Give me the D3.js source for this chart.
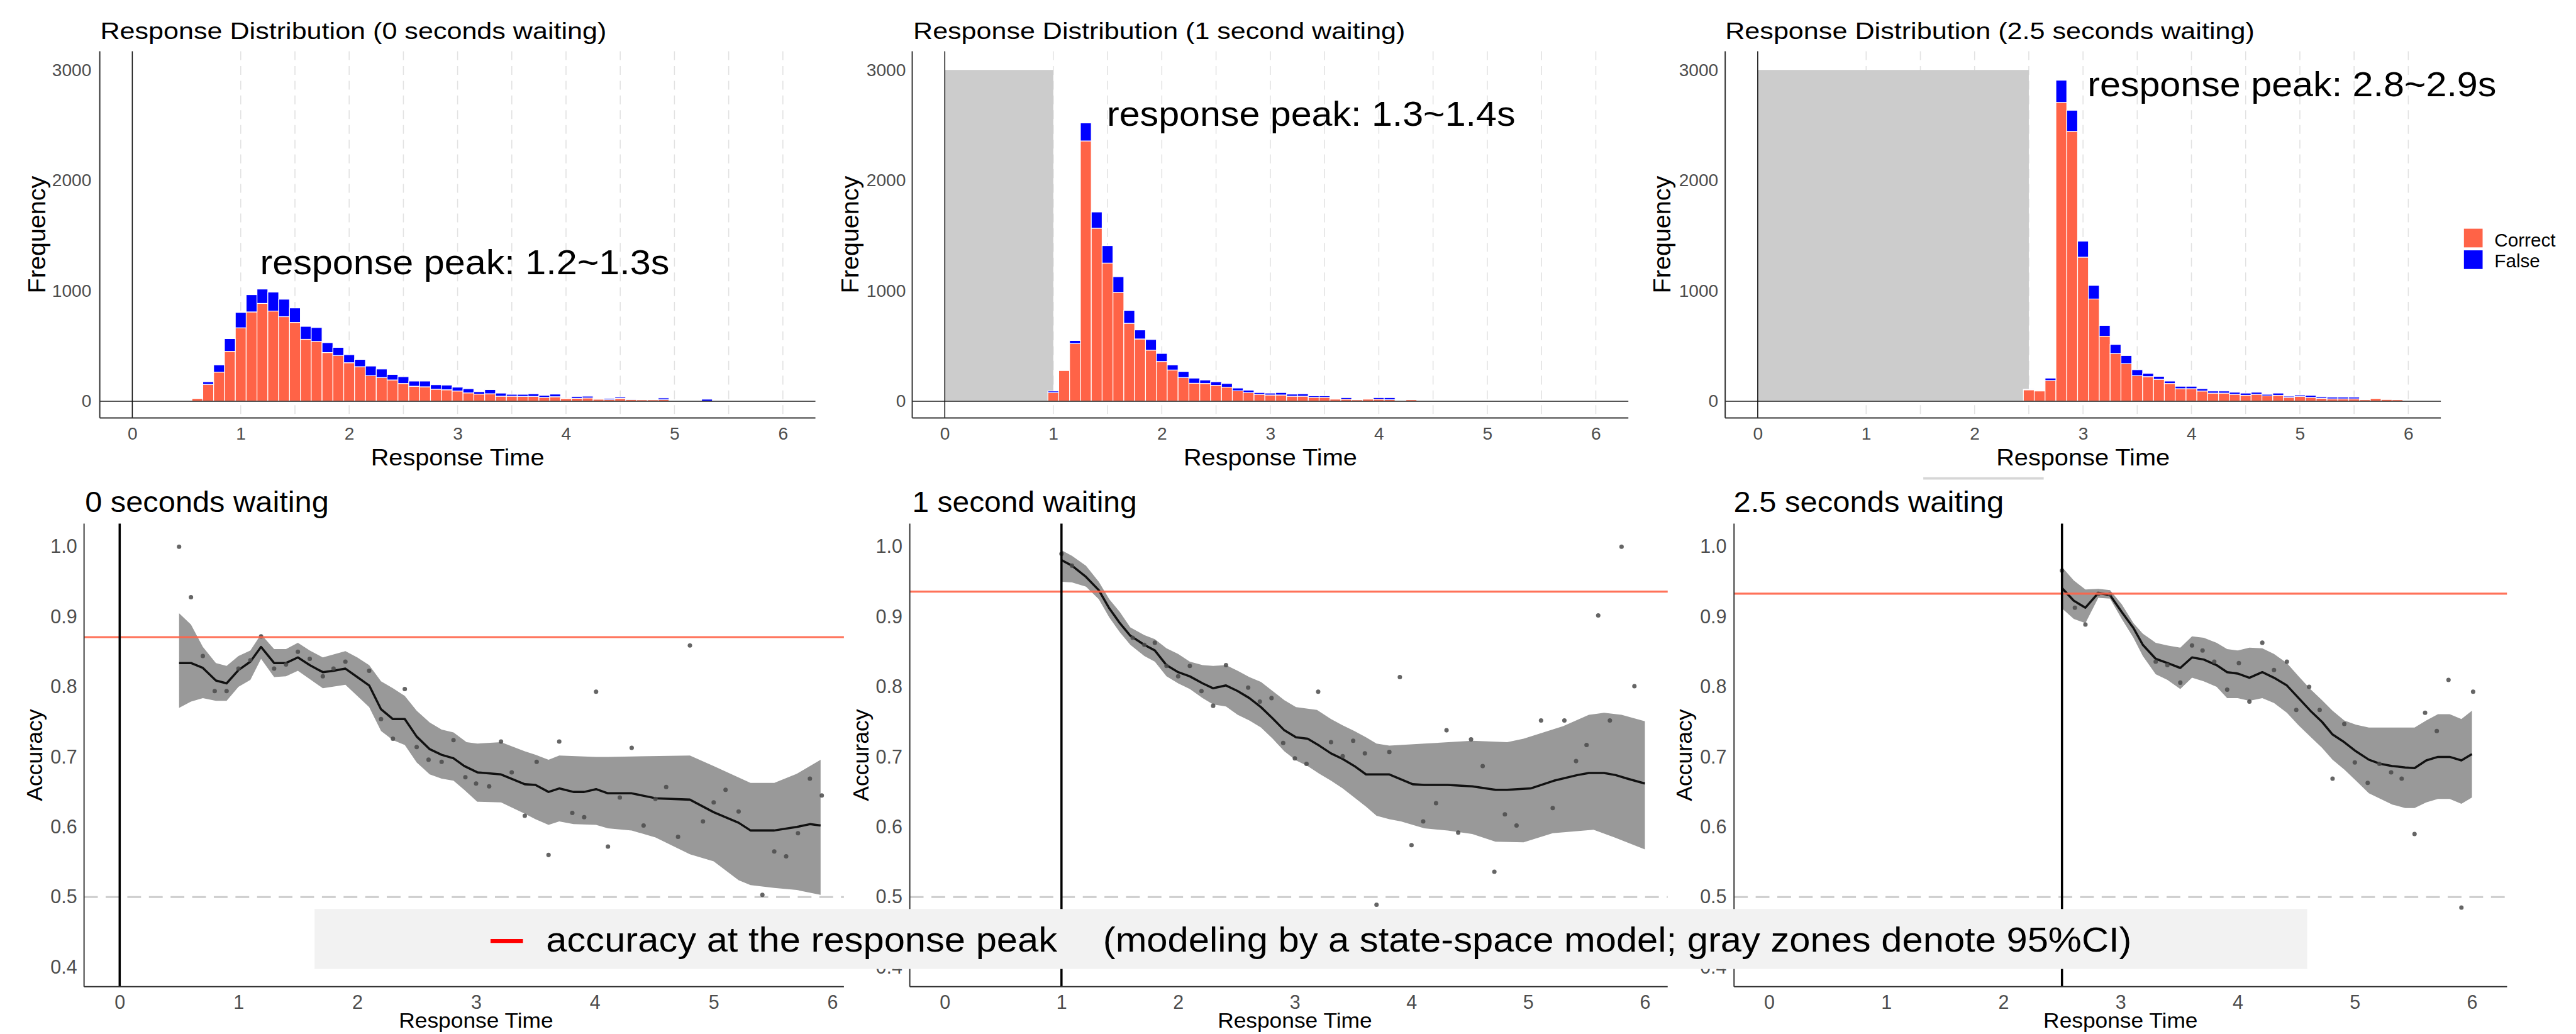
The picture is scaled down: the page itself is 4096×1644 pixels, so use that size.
<!DOCTYPE html>
<html>
<head>
<meta charset="utf-8">
<script src="https://cdn.jsdelivr.net/npm/d3@7"></script>
<style>
  html, body { margin: 0; padding: 0; background: #fff; }
  svg { display: block; }
</style>
</head>
<body>
<div id="chart"></div>
<script>
// ======================================================
// DATA
// ======================================================
const waitTimes = [0, 1, 2.5];
const binWidth = 0.1;

// histogram counts, one bin per 0.1 s starting at binStart
const binStart0 = 0.6;
const correct0 = [25,153,264,452,665,809,886,817,766,714,561,542,441,414,349,313,232,215,193,161,136,131,109,104,93,76,65,68,46,46,44,44,35,41,25,27,30,19,16,25,16,14,14,16,3,2,2,2,2,1,1,1,1,1,1];
const false0   = [0,24,66,115,139,156,130,172,158,131,117,126,90,74,73,66,87,77,50,62,47,52,41,43,35,38,22,38,28,17,19,24,19,24,5,17,16,6,11,13,3,2,2,14,2,2,2,17,2,2,2,1,1,1,1];

const binStart1 = 1.0;
const correct1 = [79,278,523,2357,1567,1251,986,706,564,463,360,283,215,163,161,144,128,95,79,63,57,57,46,46,35,35,19,19,14,19,19,16,3,14,1,1,1,1,1,1,1,1,1,1,1,1,1];
const false1   = [14,0,27,163,147,158,142,117,82,96,73,47,55,47,32,33,33,25,22,16,17,22,19,22,14,14,0,14,2,0,14,17,1,0,1,1,1,1,1,1,1,1,1,1,1,1,1];

const binStart2 = 2.5;
const correct2 = [104,93,188,2706,2444,1305,926,589,433,341,232,223,199,161,114,114,93,74,74,63,54,63,49,54,35,44,35,27,22,22,22,14,25,16,14,2];
const false2   = [5,0,22,201,191,145,123,98,82,73,54,30,27,22,22,22,21,19,19,19,20,19,14,20,11,13,19,14,16,16,16,0,0,0,0,1];

// accuracy curves: [time, value]
const mean0 = [[0.5,0.834],[0.6,0.834],[0.7,0.827],[0.81,0.809],[0.9,0.805],[1.0,0.824],[1.1,0.836],[1.19,0.857],[1.3,0.834],[1.4,0.834],[1.5,0.842],[1.6,0.831],[1.71,0.821],[1.8,0.823],[1.9,0.826],[2.0,0.814],[2.1,0.802],[2.2,0.768],[2.3,0.754],[2.4,0.754],[2.5,0.729],[2.61,0.711],[2.71,0.703],[2.81,0.698],[2.9,0.687],[3.01,0.678],[3.21,0.675],[3.41,0.661],[3.5,0.66],[3.61,0.65],[3.7,0.655],[3.82,0.65],[3.91,0.65],[4.01,0.654],[4.11,0.648],[4.31,0.648],[4.51,0.641],[4.8,0.639],[5.0,0.621],[5.21,0.606],[5.31,0.595],[5.51,0.595],[5.7,0.6],[5.81,0.604],[5.9,0.602]];
const upper0 = [[0.5,0.905],[0.6,0.889],[0.7,0.857],[0.81,0.834],[0.9,0.83],[1.0,0.844],[1.1,0.852],[1.19,0.875],[1.3,0.854],[1.4,0.854],[1.5,0.863],[1.6,0.852],[1.71,0.842],[1.9,0.851],[2.0,0.842],[2.1,0.831],[2.2,0.808],[2.3,0.798],[2.4,0.787],[2.5,0.766],[2.61,0.749],[2.71,0.739],[2.81,0.735],[2.92,0.721],[3.01,0.719],[3.21,0.721],[3.41,0.708],[3.5,0.703],[3.61,0.696],[3.7,0.702],[4.01,0.7],[4.11,0.7],[4.8,0.702],[5.0,0.687],[5.31,0.663],[5.51,0.663],[5.7,0.676],[5.9,0.696]];
const lower0 = [[0.5,0.77],[0.6,0.779],[0.7,0.784],[0.81,0.78],[0.9,0.78],[1.0,0.8],[1.1,0.81],[1.19,0.84],[1.3,0.814],[1.4,0.815],[1.5,0.823],[1.6,0.811],[1.71,0.798],[1.9,0.803],[2.0,0.787],[2.1,0.771],[2.2,0.737],[2.3,0.724],[2.4,0.717],[2.5,0.692],[2.61,0.675],[2.71,0.669],[2.81,0.666],[2.9,0.653],[3.01,0.636],[3.21,0.635],[3.41,0.619],[3.5,0.611],[3.61,0.603],[3.7,0.608],[3.82,0.604],[4.01,0.603],[4.11,0.598],[4.31,0.595],[4.51,0.585],[4.8,0.561],[5.0,0.551],[5.21,0.524],[5.31,0.517],[5.51,0.513],[5.7,0.51],[5.9,0.503]];
const points0 = [[0.5,1.0],[0.6,0.928],[0.7,0.844],[0.8,0.794],[0.9,0.794],[1.0,0.826],[1.1,0.838],[1.19,0.872],[1.3,0.826],[1.4,0.832],[1.5,0.85],[1.6,0.84],[1.71,0.815],[1.8,0.826],[1.9,0.836],[2.1,0.823],[2.2,0.754],[2.3,0.726],[2.4,0.797],[2.5,0.714],[2.6,0.696],[2.71,0.693],[2.81,0.724],[2.91,0.671],[3.0,0.662],[3.11,0.658],[3.21,0.722],[3.3,0.678],[3.41,0.616],[3.51,0.693],[3.61,0.56],[3.7,0.722],[3.81,0.62],[3.91,0.614],[4.01,0.793],[4.11,0.572],[4.21,0.642],[4.31,0.713],[4.41,0.602],[4.51,0.64],[4.6,0.657],[4.7,0.586],[4.8,0.859],[4.91,0.608],[5.0,0.635],[5.1,0.653],[5.21,0.622],[5.41,0.503],[5.51,0.565],[5.61,0.558],[5.71,0.591],[5.81,0.669],[5.91,0.645]];

const mean1 = [[1.0,0.981],[1.09,0.973],[1.21,0.957],[1.32,0.938],[1.41,0.912],[1.5,0.891],[1.59,0.873],[1.71,0.86],[1.8,0.852],[1.9,0.831],[2.0,0.821],[2.1,0.815],[2.21,0.805],[2.3,0.798],[2.41,0.802],[2.51,0.794],[2.61,0.784],[2.71,0.771],[2.81,0.755],[2.91,0.738],[3.01,0.728],[3.11,0.726],[3.21,0.716],[3.31,0.705],[3.41,0.697],[3.51,0.687],[3.61,0.675],[3.7,0.675],[3.81,0.675],[3.91,0.668],[4.01,0.661],[4.11,0.66],[4.31,0.66],[4.52,0.658],[4.72,0.653],[4.82,0.653],[5.02,0.655],[5.22,0.666],[5.42,0.674],[5.52,0.677],[5.65,0.677],[5.75,0.674],[5.85,0.669],[6.0,0.662]];
const upper1 = [[1.0,0.995],[1.09,0.987],[1.21,0.973],[1.32,0.95],[1.41,0.925],[1.5,0.907],[1.59,0.885],[1.71,0.874],[1.8,0.868],[1.9,0.855],[2.0,0.847],[2.1,0.836],[2.21,0.831],[2.3,0.83],[2.41,0.831],[2.51,0.823],[2.61,0.814],[2.71,0.807],[2.81,0.794],[2.91,0.781],[3.01,0.771],[3.19,0.767],[3.31,0.754],[3.41,0.745],[3.51,0.737],[3.61,0.728],[3.7,0.719],[3.81,0.716],[4.11,0.719],[4.52,0.723],[4.82,0.721],[4.96,0.726],[5.3,0.744],[5.52,0.76],[5.65,0.763],[5.8,0.76],[6.0,0.751]];
const lower1 = [[1.0,0.95],[1.09,0.949],[1.21,0.943],[1.32,0.925],[1.41,0.899],[1.5,0.878],[1.59,0.86],[1.71,0.844],[1.8,0.836],[1.9,0.815],[2.0,0.805],[2.1,0.797],[2.21,0.784],[2.3,0.775],[2.41,0.772],[2.51,0.76],[2.61,0.752],[2.71,0.742],[2.81,0.726],[2.91,0.708],[3.01,0.695],[3.11,0.687],[3.21,0.676],[3.31,0.666],[3.41,0.655],[3.51,0.642],[3.61,0.629],[3.7,0.616],[3.81,0.611],[3.91,0.608],[4.01,0.603],[4.11,0.598],[4.31,0.595],[4.52,0.59],[4.72,0.579],[4.96,0.578],[5.21,0.591],[5.56,0.596],[5.74,0.585],[6.0,0.568]];
const points1 = [[1.0,0.99],[1.09,0.973],[1.61,0.87],[1.71,0.86],[1.8,0.863],[1.9,0.83],[2.0,0.815],[2.1,0.83],[2.2,0.794],[2.3,0.773],[2.41,0.831],[2.6,0.799],[2.7,0.779],[2.8,0.784],[2.9,0.72],[3.0,0.698],[3.1,0.69],[3.2,0.793],[3.31,0.721],[3.41,0.701],[3.5,0.723],[3.6,0.705],[3.7,0.489],[3.81,0.707],[3.9,0.814],[4.0,0.574],[4.1,0.608],[4.21,0.634],[4.3,0.738],[4.4,0.592],[4.51,0.725],[4.61,0.687],[4.71,0.536],[4.8,0.618],[4.9,0.602],[5.11,0.752],[5.21,0.627],[5.31,0.752],[5.41,0.694],[5.5,0.717],[5.6,0.902],[5.7,0.752],[5.8,1.0],[5.91,0.801]];

const mean2 = [[2.5,0.941],[2.6,0.923],[2.7,0.913],[2.81,0.934],[2.91,0.931],[3.01,0.907],[3.11,0.884],[3.19,0.86],[3.3,0.84],[3.4,0.834],[3.51,0.827],[3.61,0.842],[3.71,0.839],[3.82,0.831],[3.91,0.821],[4.0,0.819],[4.1,0.813],[4.21,0.821],[4.31,0.813],[4.42,0.802],[4.52,0.784],[4.62,0.766],[4.72,0.75],[4.81,0.732],[4.91,0.721],[5.01,0.708],[5.12,0.696],[5.22,0.69],[5.32,0.687],[5.43,0.685],[5.51,0.684],[5.61,0.695],[5.71,0.7],[5.81,0.7],[5.91,0.695],[6.0,0.704]];
const upper2 = [[2.5,0.971],[2.6,0.952],[2.7,0.939],[2.81,0.94],[2.91,0.938],[3.01,0.918],[3.11,0.891],[3.19,0.876],[3.3,0.863],[3.4,0.859],[3.51,0.856],[3.61,0.872],[3.71,0.87],[3.82,0.863],[3.91,0.854],[4.0,0.852],[4.1,0.856],[4.21,0.855],[4.31,0.847],[4.42,0.834],[4.52,0.815],[4.62,0.797],[4.72,0.781],[4.81,0.766],[4.91,0.752],[5.01,0.746],[5.12,0.742],[5.32,0.742],[5.51,0.742],[5.61,0.752],[5.71,0.761],[5.81,0.761],[5.91,0.754],[6.0,0.766]];
const lower2 = [[2.5,0.912],[2.6,0.897],[2.7,0.891],[2.81,0.927],[2.91,0.926],[3.01,0.897],[3.11,0.87],[3.19,0.844],[3.3,0.818],[3.4,0.81],[3.51,0.797],[3.61,0.813],[3.71,0.808],[3.82,0.8],[3.91,0.784],[4.0,0.784],[4.1,0.78],[4.21,0.784],[4.31,0.777],[4.42,0.763],[4.52,0.745],[4.62,0.729],[4.72,0.713],[4.81,0.696],[4.91,0.682],[5.01,0.666],[5.12,0.648],[5.22,0.64],[5.32,0.632],[5.43,0.627],[5.51,0.627],[5.61,0.635],[5.71,0.64],[5.81,0.64],[5.91,0.633],[6.0,0.642]];
const points2 = [[2.5,0.966],[2.61,0.913],[2.7,0.889],[2.81,0.933],[2.91,0.932],[3.3,0.836],[3.4,0.831],[3.51,0.806],[3.61,0.859],[3.7,0.852],[3.8,0.836],[3.91,0.796],[4.01,0.834],[4.1,0.779],[4.21,0.863],[4.31,0.824],[4.42,0.836],[4.5,0.767],[4.61,0.8],[4.7,0.767],[4.81,0.669],[4.91,0.747],[5.0,0.692],[5.11,0.663],[5.21,0.69],[5.31,0.678],[5.4,0.669],[5.51,0.59],[5.6,0.763],[5.7,0.737],[5.8,0.81],[5.91,0.485],[6.01,0.793]];

const peakAccuracy = [0.871, 0.936, 0.933];
const chanceLevel = 0.5;

const freqTicks = [0, 1000, 2000, 3000];
const timeTicks = [0, 1, 2, 3, 4, 5, 6];
const accTicks = [0.4, 0.5, 0.6, 0.7, 0.8, 0.9, 1.0];
const gridTimes = [1, 1.5, 2, 2.5, 3, 3.5, 4, 4.5, 5, 5.5, 6];

const histTitles = ["Response Distribution (0 seconds waiting)", "Response Distribution (1 second waiting)", "Response Distribution (2.5 seconds waiting)"];
const accTitles = ["0 seconds waiting", "1 second waiting", "2.5 seconds waiting"];
const peakLabels = ["response peak: 1.2~1.3s", "response peak: 1.3~1.4s", "response peak: 2.8~2.9s"];
const legendKeys = ["Correct", "False"];
const footnoteMain = "accuracy at the response peak";
const footnoteNote = "(modeling by a state-space model; gray zones denote 95%CI)";

const histData = [
  { start: binStart0, correct: correct0, wrong: false0 },
  { start: binStart1, correct: correct1, wrong: false1 },
  { start: binStart2, correct: correct2, wrong: false2 }
];
const accData = [
  { mean: mean0, upper: upper0, lower: lower0, points: points0 },
  { mean: mean1, upper: upper1, lower: lower1, points: points1 },
  { mean: mean2, upper: upper2, lower: lower2, points: points2 }
];

// ======================================================
// CANVAS (drawn in reference pixels, scaled by viewBox)
// ======================================================
const W = 5241, H = 2103;
const FONT = "'Liberation Sans', Arial, Helvetica, sans-serif";
const NOTE_FONT = "'Liberation Sans Narrow', 'Liberation Sans', Arial, sans-serif";
const COL_CORRECT = "#FF6347", COL_FALSE = "#0000FF";

const svg = d3.select("#chart").append("svg")
  .attr("width", 4096).attr("height", 1644)
  .attr("viewBox", `0 0 ${W} ${H}`)
  .style("font-family", FONT);

svg.append("rect").attr("width", W).attr("height", H).attr("fill", "#fff");
const defs = svg.append("defs");

// -----------------------------
// TOP ROW: histograms
// -----------------------------
const histLayout = [
  { left: 203,  right: 1659, pad: 17, ylab: 92,   titleX: 204,  titleLen: 1030, ann: { x: 529,  y: 557, len: 833 } },
  { left: 1856, right: 3313, pad: 13, ylab: 1746, titleX: 1858, titleLen: 1001, ann: { x: 2252, y: 256, len: 831 } },
  { left: 3510, right: 4966, pad: 14, ylab: 3398, titleX: 3510, titleLen: 1077, ann: { x: 4247, y: 195, len: 832 } }
];
const hTop = 104, hBottom = 850;

function drawHist(i) {
  const L = histLayout[i];
  const d = histData[i];
  const wait = waitTimes[i];
  const g = svg.append("g").attr("class", "hist-" + i);

  const x = d3.scaleLinear().domain([-0.3, 6.3]).range([L.left, L.right]);
  const y = d3.scaleLinear().domain([-151, 3169]).range([hBottom, hTop]);

  // dashed vertical guides
  g.selectAll(".guide").data(gridTimes).join("line")
    .attr("x1", t => x(t)).attr("x2", t => x(t))
    .attr("y1", hTop).attr("y2", hBottom)
    .attr("stroke", "#e2e2e2").attr("stroke-width", 2)
    .attr("stroke-dasharray", "18,12");

  // waiting window
  if (wait > 0) {
    g.append("rect")
      .attr("x", x(0)).attr("width", x(wait) - x(0))
      .attr("y", y(3000)).attr("height", y(0) - y(3000))
      .attr("fill", "#cccccc");
  }

  // stacked bars
  const bins = d.correct.map((c, j) => ({ x0: d.start + j * binWidth - binWidth / 2, c: c, f: d.wrong[j] }));
  g.selectAll(".bar-c").data(bins).join("rect")
    .attr("x", b => x(b.x0)).attr("width", b => x(b.x0 + binWidth) - x(b.x0))
    .attr("y", b => y(b.c)).attr("height", b => y(0) - y(b.c))
    .attr("fill", COL_CORRECT).attr("stroke", "#fff").attr("stroke-width", 1.5);
  g.selectAll(".bar-f").data(bins).join("rect")
    .attr("x", b => x(b.x0)).attr("width", b => x(b.x0 + binWidth) - x(b.x0))
    .attr("y", b => y(b.c + b.f)).attr("height", b => y(b.c) - y(b.c + b.f))
    .attr("fill", COL_FALSE).attr("stroke", "#fff").attr("stroke-width", 1.5);

  // zero line + x=0 line
  g.append("line").attr("x1", L.left).attr("x2", L.right).attr("y1", y(0)).attr("y2", y(0))
    .attr("stroke", "#555").attr("stroke-width", 2.5);
  g.append("line").attr("x1", x(0)).attr("x2", x(0)).attr("y1", hTop).attr("y2", hBottom)
    .attr("stroke", "#111").attr("stroke-width", 2);

  // axis lines
  g.append("line").attr("x1", L.left).attr("x2", L.left).attr("y1", hTop).attr("y2", hBottom)
    .attr("stroke", "#333").attr("stroke-width", 2.5);
  g.append("line").attr("x1", L.left).attr("x2", L.right).attr("y1", hBottom).attr("y2", hBottom)
    .attr("stroke", "#333").attr("stroke-width", 2.5);

  // tick labels
  const ya = g.append("g").attr("transform", `translate(${L.left},0)`)
    .call(d3.axisLeft(y).tickValues(freqTicks).tickFormat(d3.format("d")).tickSize(0).tickPadding(L.pad));
  const xa = g.append("g").attr("transform", `translate(0,${hBottom})`)
    .call(d3.axisBottom(x).tickValues(timeTicks).tickFormat(d3.format("d")).tickSize(0).tickPadding(18));
  [ya, xa].forEach(a => {
    a.select(".domain").remove();
    a.selectAll("text").attr("font-family", FONT).attr("font-size", 36).attr("fill", "#4d4d4d");
  });

  // titles
  g.append("text").attr("x", L.titleX).attr("y", 79)
    .attr("font-size", 48).attr("textLength", L.titleLen).attr("lengthAdjust", "spacingAndGlyphs")
    .text(histTitles[i]);
  g.append("text").attr("x", (L.left + L.right) / 2).attr("y", 946)
    .attr("text-anchor", "middle").attr("font-size", 48)
    .attr("textLength", 353).attr("lengthAdjust", "spacingAndGlyphs")
    .text("Response Time");
  g.append("text").attr("transform", `translate(${L.ylab},${(hTop + hBottom) / 2}) rotate(-90)`)
    .attr("text-anchor", "middle").attr("font-size", 50)
    .attr("textLength", 239).attr("lengthAdjust", "spacingAndGlyphs")
    .text("Frequency");

  // peak annotation
  g.append("text").attr("x", L.ann.x).attr("y", L.ann.y)
    .attr("font-family", NOTE_FONT).attr("font-size", 70)
    .attr("textLength", L.ann.len).attr("lengthAdjust", "spacingAndGlyphs")
    .text(peakLabels[i]);
}

// -----------------------------
// BOTTOM ROW: accuracy curves
// -----------------------------
const accLayout = [
  { left: 171,  unit: 241.7, clip: 1717, pad: 14, ylab: 86,   titleX: 173,  titleLen: 496 },
  { left: 1851, unit: 237.4, clip: 3393, pad: 15, ylab: 1767, titleX: 1856, titleLen: 457 },
  { left: 3528, unit: 238.3, clip: 5101, pad: 15, ylab: 3442, titleX: 3527, titleLen: 550 }
];
const aTop = 1065, aBottom = 2007;

function drawAcc(i) {
  const L = accLayout[i];
  const d = accData[i];
  const wait = waitTimes[i];
  const right = L.left + 6.6 * L.unit;
  const g = svg.append("g").attr("class", "acc-" + i);

  const x = d3.scaleLinear().domain([-0.3, 6.3]).range([L.left, right]);
  const y = d3.scaleLinear().domain([0.372, 1.033]).range([aBottom, aTop]);

  defs.append("clipPath").attr("id", "clip-acc-" + i)
    .append("rect").attr("x", L.left).attr("y", aTop - 10)
    .attr("width", L.clip - L.left).attr("height", aBottom - aTop + 20);
  const pg = g.append("g").attr("clip-path", `url(#clip-acc-${i})`);

  // chance level
  pg.append("line").attr("x1", L.left).attr("x2", right)
    .attr("y1", y(chanceLevel)).attr("y2", y(chanceLevel))
    .attr("stroke", "#cccccc").attr("stroke-width", 4).attr("stroke-dasharray", "28,16");

  const lineGen = d3.line().x(p => x(p[0])).y(p => y(p[1]));

  // 95% CI ribbon
  pg.append("path")
    .attr("d", lineGen(d.upper.concat(d.lower.slice().reverse())) + "Z")
    .attr("fill", "#999999");

  // smoothed accuracy
  pg.append("path").attr("d", lineGen(d.mean))
    .attr("fill", "none").attr("stroke", "#111").attr("stroke-width", 4.5)
    .attr("stroke-linejoin", "round");

  // raw points
  pg.selectAll(".pt").data(d.points).join("circle")
    .attr("cx", p => x(p[0])).attr("cy", p => y(p[1])).attr("r", 4.5)
    .attr("fill", "#4a4a4a").attr("fill-opacity", 0.85);

  // accuracy at the response peak
  pg.append("line").attr("x1", L.left).attr("x2", right)
    .attr("y1", y(peakAccuracy[i])).attr("y2", y(peakAccuracy[i]))
    .attr("stroke", "#FF6347").attr("stroke-opacity", 0.9).attr("stroke-width", 4);

  // waiting-time marker
  pg.append("line").attr("x1", x(wait)).attr("x2", x(wait)).attr("y1", aTop).attr("y2", aBottom)
    .attr("stroke", "#000").attr("stroke-width", 4.5);

  // axis lines
  g.append("line").attr("x1", L.left).attr("x2", L.left).attr("y1", aTop).attr("y2", aBottom)
    .attr("stroke", "#333").attr("stroke-width", 2.5);
  g.append("line").attr("x1", L.left).attr("x2", Math.min(L.clip, right)).attr("y1", aBottom).attr("y2", aBottom)
    .attr("stroke", "#333").attr("stroke-width", 2.5);

  const ya = g.append("g").attr("transform", `translate(${L.left},0)`)
    .call(d3.axisLeft(y).tickValues(accTicks).tickFormat(d3.format(".1f")).tickSize(0).tickPadding(L.pad));
  const xa = g.append("g").attr("transform", `translate(0,${aBottom})`)
    .call(d3.axisBottom(x).tickValues(timeTicks).tickFormat(d3.format("d")).tickSize(0).tickPadding(17));
  [ya, xa].forEach(a => {
    a.select(".domain").remove();
    a.selectAll("text").attr("font-family", FONT).attr("font-size", 39).attr("fill", "#4d4d4d");
  });

  g.append("text").attr("x", L.titleX).attr("y", 1041)
    .attr("font-size", 58).attr("textLength", L.titleLen).attr("lengthAdjust", "spacingAndGlyphs")
    .text(accTitles[i]);
  g.append("text").attr("x", (L.left + right) / 2).attr("y", 2091)
    .attr("text-anchor", "middle").attr("font-size", 42)
    .attr("textLength", 314).attr("lengthAdjust", "spacingAndGlyphs")
    .text("Response Time");
  g.append("text").attr("transform", `translate(${L.ylab},${(aTop + aBottom) / 2}) rotate(-90)`)
    .attr("text-anchor", "middle").attr("font-size", 45)
    .attr("textLength", 187).attr("lengthAdjust", "spacingAndGlyphs")
    .text("Accuracy");
}

waitTimes.forEach((w, i) => { drawHist(i); drawAcc(i); });

// -----------------------------
// FILL LEGEND (top right)
// -----------------------------
const lg = svg.append("g").attr("class", "legend");
lg.selectAll("rect").data(legendKeys).join("rect")
  .attr("x", 5013).attr("y", (k, j) => 465 + j * 44).attr("width", 38).attr("height", 38)
  .attr("fill", (k, j) => j === 0 ? COL_CORRECT : COL_FALSE);
lg.selectAll("text").data(legendKeys).join("text")
  .attr("x", 5075).attr("y", (k, j) => 501 + j * 43)
  .attr("font-size", 38).text(k => k);

// stray divider under the third histogram
svg.append("line").attr("x1", 3913).attr("x2", 4158).attr("y1", 973).attr("y2", 973)
  .attr("stroke", "#d6d6d6").attr("stroke-width", 5);

// -----------------------------
// FOOTNOTE BOX
// -----------------------------
const fn = svg.append("g").attr("class", "footnote");
fn.append("rect").attr("x", 640).attr("y", 1849).attr("width", 4054).attr("height", 122)
  .attr("fill", "#f2f2f2");
fn.append("line").attr("x1", 998).attr("x2", 1064).attr("y1", 1914).attr("y2", 1914)
  .attr("stroke", "#ff0000").attr("stroke-width", 8);
fn.append("text").attr("x", 1111).attr("y", 1936)
  .attr("font-family", NOTE_FONT).attr("font-size", 70)
  .attr("textLength", 1040).attr("lengthAdjust", "spacingAndGlyphs")
  .text(footnoteMain);
fn.append("text").attr("x", 2244).attr("y", 1936)
  .attr("font-family", NOTE_FONT).attr("font-size", 70)
  .attr("textLength", 2093).attr("lengthAdjust", "spacingAndGlyphs")
  .text(footnoteNote);
</script>
</body>
</html>
